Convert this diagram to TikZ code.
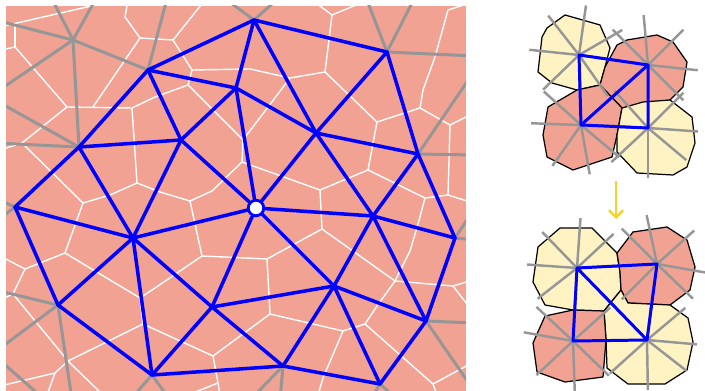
\documentclass[tikz,border=0pt]{standalone}
\usetikzlibrary{arrows.meta}

\definecolor{tissue}{RGB}{241,162,146}
\definecolor{pale}{RGB}{255,243,196}
\definecolor{bondgray}{RGB}{150,150,150}
\definecolor{netblue}{RGB}{0,0,255}
\definecolor{gold}{RGB}{245,210,40}

\begin{document}
\begin{tikzpicture}[
  x=0.02cm, y=-0.02cm,
  wall/.style={draw=white, line width=0.8pt, line join=round},
  bond/.style={draw=bondgray, line width=1.7pt},
  tri/.style={draw=netblue, line width=2pt, line cap=round},
  hub/.style={circle, draw=netblue, fill=white, line width=1.6pt, minimum size=0.31cm, inner sep=0pt},
  redcell/.style={fill=tissue, draw=black, line width=0.7pt, line join=round},
  yellowcell/.style={fill=pale, draw=black, line width=0.7pt, line join=round},
  spoke/.style={draw=bondgray, line width=1.4pt},
  quad/.style={draw=netblue, line width=1.7pt, line join=round, line cap=round},
  flipmark/.style={draw=gold, line width=1.4pt, -{Straight Barb[length=4pt,width=8pt]}},
]
\useasboundingbox (0,0) rectangle (705,391);

% Triangulation vertices
\coordinate (A) at (254,20);
\coordinate (B) at (148,70);
\coordinate (C) at (387,52);
\coordinate (D) at (236,88);
\coordinate (E) at (181,140);
\coordinate (F) at (79,147);
\coordinate (G) at (316,133);
\coordinate (H) at (418,154);
\coordinate (I) at (15,207);
\coordinate (K) at (373,216);
\coordinate (L) at (133,238);
\coordinate (M) at (455,238);
\coordinate (N) at (334,286);
\coordinate (O) at (58,305);
\coordinate (P) at (426,321);
\coordinate (Q) at (212,307);
\coordinate (R) at (152,375);
\coordinate (S) at (380,384);
\coordinate (T) at (283,366);
\coordinate (p1) at (73,40);

% Outer ends of the gray bonds
\coordinate (o1) at (50,-5);   \coordinate (o2) at (98,-5);
\coordinate (o3) at (-5,20);   \coordinate (o4) at (-5,93);
\coordinate (o5) at (-5,143);  \coordinate (o6) at (-5,100);
\coordinate (o7) at (168,-5);  \coordinate (o8) at (220,-5);
\coordinate (o9) at (282,-5);  \coordinate (o10) at (365,-5);
\coordinate (o11) at (416,-5); \coordinate (o12) at (475,56);
\coordinate (o13) at (475,70); \coordinate (o14) at (475,155);
\coordinate (o15) at (475,208);\coordinate (o16) at (475,240);
\coordinate (o17) at (475,323);\coordinate (o18) at (475,392);
\coordinate (o19) at (370,400);\coordinate (o20) at (398,400);
\coordinate (o21) at (280,400);\coordinate (o22) at (250,400);
\coordinate (o23) at (130,400);\coordinate (o24) at (170,400);
\coordinate (o25) at (-5,290); \coordinate (o26) at (-5,352);
\coordinate (o27) at (72,400); \coordinate (o28) at (-5,198);
\coordinate (o29) at (-5,222); \coordinate (o30) at (-5,356);
\coordinate (o31) at (45,400);

% Tissue
\fill[tissue] (6,6) rectangle (466,391);
\begin{scope}
\clip (6,6) rectangle (466,391);

% cell walls
\draw[wall] (-5,28) -- (100,4);
\draw[wall] (15,24) -- (15,47);
\draw[wall] (0,50) -- (15,47) -- (35,70) -- (67,107) -- (132,108) -- (155,97) -- (188,85);
\draw[wall] (67,107) -- (22,143) -- (0,150);
\draw[wall] (93,107) -- (140,38);
\draw[wall] (128,0) -- (125,17) -- (140,38) -- (173,40) -- (205,0);
\draw[wall] (173,40) -- (192,70) -- (188,85) -- (243,140) -- (290,78);
\draw[wall] (192,70) -- (250,69) -- (290,78) -- (325,72) -- (332,15) -- (312,0);
\draw[wall] (332,15) -- (368,0);
\draw[wall] (243,140) -- (242,162) -- (212,191) -- (190,201) -- (160,192) -- (137,183) -- (132,108);
\draw[wall] (137,183) -- (110,195) -- (83,203) -- (22,143);
\draw[wall] (242,162) -- (320,190) -- (368,170) -- (377,122) -- (325,72);
\draw[wall] (377,122) -- (420,108) -- (423,90) -- (435,57) -- (448,10) -- (470,3);
\draw[wall] (420,108) -- (450,125) -- (470,115);
\draw[wall] (450,125) -- (448,195) -- (470,202);
\draw[wall] (368,170) -- (425,198) -- (448,195);
\draw[wall] (425,198) -- (418,224) -- (410,251) -- (395,281);
\draw[wall] (320,190) -- (322,229) -- (395,281) -- (453,286) -- (470,281);
\draw[wall] (453,286) -- (470,308);
\draw[wall] (322,229) -- (267,259) -- (202,256) -- (190,201);
\draw[wall] (267,259) -- (270,314) -- (343,331) -- (365,324) -- (377,306) -- (395,281);
\draw[wall] (343,331) -- (323,378) -- (318,395);
\draw[wall] (365,324) -- (433,384) -- (470,364);
\draw[wall] (433,384) -- (437,395);
\draw[wall] (270,314) -- (213,356) -- (143,324) -- (140,298) -- (155,288) -- (202,256);
\draw[wall] (213,356) -- (218,383) -- (220,395);
\draw[wall] (218,383) -- (188,395);
\draw[wall] (140,298) -- (65,253) -- (83,203);
\draw[wall] (65,253) -- (25,269) -- (0,256);
\draw[wall] (25,269) -- (13,294) -- (0,300);
\draw[wall] (13,294) -- (68,361);
\draw[wall] (143,324) -- (68,361) -- (55,373) -- (47,395);
\draw[wall] (55,373) -- (0,386);
\draw[wall] (68,361) -- (103,395);

% bonds to the outer cells
\foreach \a/\b in {p1/o1, p1/o2, p1/o3, p1/o4, p1/B, p1/F, F/o5, F/o6, B/o7,
    A/o8, A/o9, C/o10, C/o11, C/o12, H/o13, H/o14, M/o15, M/o16, P/o17, P/o18,
    S/o19, S/o20, T/o21, T/o22, R/o23, R/o24, O/o25, O/o26, O/o27, I/o28, I/o29, o30/o31}
  \draw[bond] (\a) -- (\b);

% central cell
\node[hub] (J) at (256,208) {};

% triangulation
\foreach \a/\b in {I/F, F/B, B/A, A/C, C/H, H/M, M/P, P/S, S/T, T/R, R/O, O/I,
    B/D, B/E, F/E, F/L, E/D, E/L, E/J, D/A, D/J, D/G, A/G, G/C, G/H, G/J, G/K,
    H/K, J/K, J/L, J/Q, J/N, K/N, K/M, K/P, N/P, Q/N, N/S, N/T, Q/T, Q/L, Q/R,
    L/I, L/O, L/R}
  \draw[tri] (\a) -- (\b);
\end{scope}

% Before the flip
\coordinate (ul) at (579,55);
\coordinate (ur) at (648,65);
\coordinate (ll) at (581,125);
\coordinate (lr) at (648,128);

\draw[yellowcell] (542,37) -- (547,28) -- (565,15) -- (600,25) -- (610,48) -- (605,67) -- (600,85) -- (577,90) -- (552,83) -- (538,72) -- cycle;
\draw[redcell] (600,85) -- (605,67) -- (617,45) -- (627,40) -- (657,35) -- (673,42) -- (687,62) -- (683,87) -- (670,100) -- (622,108) -- cycle;
\draw[redcell] (600,85) -- (622,108) -- (617,135) -- (612,157) -- (573,170) -- (547,157) -- (543,135) -- (548,107) -- (577,90) -- cycle;
\draw[yellowcell] (622,108) -- (643,102) -- (670,100) -- (692,117) -- (695,143) -- (687,167) -- (673,175) -- (637,173) -- (617,152) -- (617,135) -- cycle;

\foreach \a in {8,55,88,136,186,232,278,330} \draw[spoke] (ul) -- ++(\a:50);
\foreach \a in {6,45,90,138,188,225,265,315} \draw[spoke] (ur) -- ++(\a:50);
\foreach \a in {3,40,80,125,182,222,268,318} \draw[spoke] (ll) -- ++(\a:50);
\foreach \a in {4,40,90,137,183,228,270,315} \draw[spoke] (lr) -- ++(\a:50);

\draw[quad] (ul) -- (ur) -- (lr) -- (ll) -- cycle;
\draw[quad] (ll) -- (ur);

% Arrow
\coordinate (arrowtop) at (616,181);
\coordinate (arrowbot) at (616,219);
\draw[flipmark] (arrowtop) -- (arrowbot);

% After the flip
\coordinate (ul2) at (577,268);
\coordinate (ur2) at (657,264);
\coordinate (ll2) at (573,341);
\coordinate (lr2) at (647,340);

\draw[yellowcell] (538,247) -- (560,228) -- (592,228) -- (617,253) -- (620,272) -- (621,290) -- (604,311) -- (573,310) -- (545,305) -- (533,282) -- cycle;
\draw[redcell] (617,253) -- (633,232) -- (667,227) -- (687,240) -- (695,267) -- (690,290) -- (670,305) -- (628,303) -- (621,290) -- (620,272) -- cycle;
\draw[yellowcell] (621,290) -- (628,303) -- (670,305) -- (688,318) -- (693,342) -- (687,370) -- (665,384) -- (628,384) -- (607,368) -- (606,340) -- (604,311) -- cycle;
\draw[redcell] (604,311) -- (606,340) -- (603,377) -- (565,382) -- (537,372) -- (533,343) -- (545,316) -- (573,310) -- cycle;

\foreach \a in {357,46,93,142,184,226,274,317} \draw[spoke] (ul2) -- ++(\a:50);
\foreach \a in {10,44,98,135,177,225,258,318} \draw[spoke] (ur2) -- ++(\a:50);
\foreach \a in {0,44,88,137,190,223,273,318} \draw[spoke] (ll2) -- ++(\a:50);
\foreach \a in {5,38,89,138,180,226,277,320} \draw[spoke] (lr2) -- ++(\a:50);

\draw[quad] (ul2) -- (ur2) -- (lr2) -- (ll2) -- cycle;
\draw[quad] (ul2) -- (lr2);

\end{tikzpicture}
\end{document}
